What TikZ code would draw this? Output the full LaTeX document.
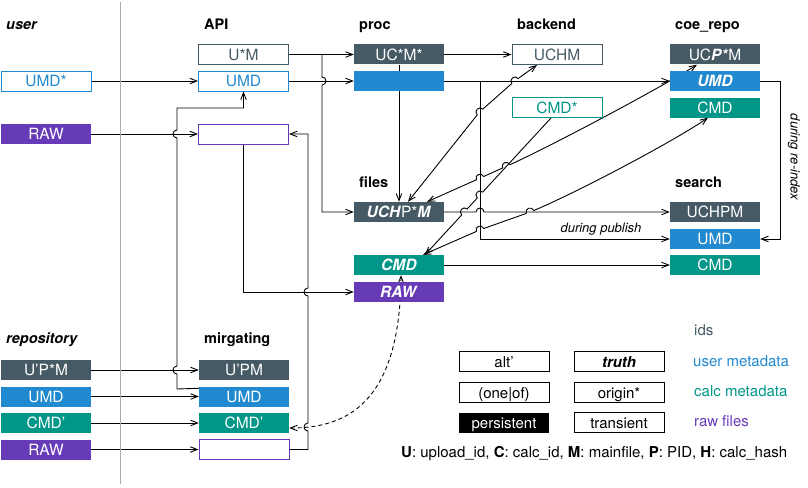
\documentclass[tikz,border=0pt]{standalone}
\usepackage{fontspec}
\setmainfont{TeX Gyre Heros}
\usetikzlibrary{arrows.meta,calc}
\definecolor{slate}{HTML}{455A64}
\definecolor{mblue}{HTML}{2189CF}
\definecolor{mteal}{HTML}{009688}
\definecolor{mpurple}{HTML}{673AB7}
\definecolor{divider}{HTML}{AAAAAA}
\pgfdeclarelayer{bg}
\pgfsetlayers{bg,main}
% hop: x, y, direction angle (pixel frame), side (1 = left of travel, -1 = right)
\newcommand\hp[4]{-- ($(#1,#2)+({#3+180}:4)$) .. controls ($(#1,#2)+({#3+180}:4)+({#3-90*(#4)}:5.3)$) and ($(#1,#2)+({#3}:4)+({#3-90*(#4)}:5.3)$) .. ($(#1,#2)+({#3}:4)$)}
\newcommand\bi[1]{\textbf{\textit{#1}}}
\tikzset{
 bx/.style={rectangle, minimum width=90pt, minimum height=20pt, inner sep=0pt, text height=11.5pt, text depth=0.5pt, font=\fontsize{15.5}{18}\selectfont},
 fillbox/.style={bx, fill=#1, text=white},
 linebox/.style={bx, draw=#1, line width=1pt, fill=white, text=#1},
 legbox/.style={bx, draw=black, line width=1pt, fill=white, text=black, font=\fontsize{15}{18}\selectfont},
 hdr/.style={anchor=base west, inner sep=0pt, font=\fontsize{14.5}{17}\selectfont\bfseries},
 hdri/.style={anchor=base west, inner sep=0pt, font=\fontsize{14.5}{17}\selectfont\bfseries\itshape},
 legtxt/.style={anchor=base west, inner sep=0pt, font=\fontsize{15}{18}\selectfont},
 note/.style={inner sep=0pt, font=\fontsize{13}{15}\selectfont\itshape},
 conn/.style={line width=0.9pt, -{Straight Barb[length=7pt,width=5.5pt]}},
 biconn/.style={line width=0.9pt, {Straight Barb[length=7pt,width=5.5pt]}-{Straight Barb[length=7pt,width=5.5pt]}},
 plainline/.style={line width=0.9pt},
}
\begin{document}
\begin{tikzpicture}[x=1pt,y=-1pt]
\useasboundingbox (0,0) rectangle (808,487);
\draw[divider, line width=1pt] (120,2) -- (120,484);

% headers
\node[hdri] (hUser) at (6,30) {user};
\node[hdr] (hAPI) at (204,30) {API};
\node[hdr] (hProc) at (359,30) {proc};
\node[hdr] (hBack) at (517,30) {backend};
\node[hdr] (hCoe) at (675,30) {coe\_repo};
\node[hdr] (hFiles) at (359,187) {files};
\node[hdr] (hSearch) at (675,187) {search};
\node[hdri] (hRepo) at (6,343) {repository};
\node[hdr] (hMig) at (204,343) {mirgating};

% user
\node[linebox=mblue] (uUMD) at (46,81) {UMD*};
\node[fillbox=mpurple] (uRAW) at (46,134) {RAW};
% API
\node[linebox=slate] (aUM) at (243.5,54.5) {U*M};
\node[linebox=mblue] (aUMD) at (243.5,81) {UMD};
\node[linebox=mpurple] (aRAW) at (243.5,134) {};
% proc
\node[fillbox=slate] (pUCM) at (399,54.5) {UC*M*};
\node[fillbox=mblue] (pBlue) at (399,81) {};
% backend
\node[linebox=slate] (bUCHM) at (557,54.5) {UCHM};
\node[linebox=mteal] (bCMD) at (557,107.5) {CMD*};
% coe_repo
\node[fillbox=slate] (cUCPM) at (715,54.5) {UC\bi{P*}M};
\node[fillbox=mblue] (cUMD) at (715,81) {\bi{UMD}};
\node[fillbox=mteal] (cCMD) at (715,107.5) {CMD};
% files
\node[fillbox=slate] (fU) at (399,212) {\bi{UCH}P*\bi{M}};
\node[fillbox=mteal] (fCMD) at (399,265) {\bi{CMD}};
\node[fillbox=mpurple] (fRAW) at (399,292) {\bi{RAW}};
% search
\node[fillbox=slate] (sU) at (715,212) {UCHPM};
\node[fillbox=mblue] (sUMD) at (715,239) {UMD};
\node[fillbox=mteal] (sCMD) at (715,265) {CMD};
% repository
\node[fillbox=slate] (rU) at (46,370) {U’P*M};
\node[fillbox=mblue] (rUMD) at (46,396.5) {UMD};
\node[fillbox=mteal] (rCMD) at (46,423) {CMD’};
\node[fillbox=mpurple] (rRAW) at (46,449.5) {RAW};
% mirgating
\node[fillbox=slate] (mU) at (244,370) {U’PM};
\node[fillbox=mblue] (mUMD) at (244,396.5) {UMD};
\node[fillbox=mteal] (mCMD) at (244,423) {CMD’};
\node[linebox=mpurple] (mRAW) at (244,449.5) {};

% legend
\node[legbox] (lAlt) at (504,361.5) {alt’};
\node[legbox] (lTruth) at (619,361.5) {\bi{truth}};
\node[legbox] (lOne) at (504,392.5) {(one|of)};
\node[legbox] (lOrig) at (619,392.5) {origin*};
\node[bx, fill=black, text=white, font=\fontsize{15}{18}\selectfont] (lPers) at (504,422.5) {persistent};
\node[legbox] (lTrans) at (619,422.5) {transient};
\node[legtxt, text=slate] (tIds) at (694,335) {ids};
\node[legtxt, text=mblue] (tUser) at (693,366.5) {user metadata};
\node[legtxt, text=mteal] (tCalc) at (694,396.5) {calc metadata};
\node[legtxt, text=mpurple] (tRaw) at (694,426.5) {raw files};
\node[legtxt] (tFoot) at (401,457) {\textbf{U}: upload\_id, \textbf{C}: calc\_id, \textbf{M}: mainfile, \textbf{P}: PID, \textbf{H}: calc\_hash};

\node[note, anchor=base] (lPub) at (601,232) {during publish};
\node[note, rotate=-90] (lRe) at (794,157) {during re-index};

\begin{pgfonlayer}{bg}
% user -> API
\draw[conn] (uUMD.east) -- (aUMD.west);
\draw[conn] (uRAW.east) -- (aRAW.west);
% migrating UMD -> API UMD
\draw[conn] ([yshift=-2pt]mUMD.north west) -- (177,389) \hp{177}{370}{-90}{1} \hp{177}{134}{-90}{1} -- (177,108) -| (aUMD.south);
% API RAW -> files RAW
\draw[conn] (aRAW.south) |- (fRAW.west);
% migrating RAW -> API RAW
\draw[conn] (mRAW.east) -- (308,449.5) \hp{308}{427}{-90}{1} \hp{308}{292}{-90}{1} |- (aRAW.east);
% dashed RAW link
\draw[biconn, dash pattern=on 4pt off 3pt] ([xshift=2pt]fCMD.south) .. controls (400,405) and (345,428) .. ([yshift=-5pt]mCMD.east);
% API -> proc
\draw[conn] (aUM.east) -- (pUCM.west);
\draw[conn] (322,54.5) \hp{322}{81}{90}{1} |- (fU.west);
\draw[conn] (aUMD.east) -- (pBlue.west);
% proc
\draw[conn] (pUCM.east) -- (bUCHM.west);
\draw[conn] (pUCM.south) -- (fU.north);
\draw[conn] (pBlue.east) -- (cUMD.west);
\draw[conn] (480,81) |- (sUMD.west);
\draw[conn] (cUMD.east) -- ++(20,0) |- (sUMD.east);
% files -> search
\draw[conn] (fU.east) \hp{480}{212}{0}{1} -- (sU.west);
\draw[conn] (fCMD.east) -- (sCMD.west);
% diagonals
\draw[biconn] ([xshift=9pt]fU.north) \hp{480}{112}{-46}{1} \hp{515}{81}{-38}{1} -- ([xshift=-20pt]bUCHM.south);
\draw[biconn] ([xshift=28pt]fU.north) \hp{480}{178.15}{-24.23}{1} \hp{506.24}{166.34}{-24.23}{1} .. controls (548.2,147.5) and (659,88.8) .. ([xshift=-18pt]cUCPM.south);
\draw[conn] ([xshift=-6pt]bCMD.south) \hp{480}{195}{132.5}{-1} \hp{464.4}{212}{132.5}{-1} -- ([xshift=26pt]fCMD.north);
\draw[biconn] ([xshift=24pt]fCMD.north) \hp{480}{230}{-22}{1} \hp{530}{212}{-21}{1} .. controls (579.7,191.1) and (675.2,140.4) .. ([xshift=-7pt]cCMD.south);
% repository -> mirgating
\draw[conn] (rU.east) -- (mU.west);
\draw[conn] (rUMD.east) -- (mUMD.west);
\draw[conn] (rCMD.east) -- (mCMD.west);
\draw[conn] (rRAW.east) -- (mRAW.west);
\end{pgfonlayer}
\end{tikzpicture}
\end{document}
